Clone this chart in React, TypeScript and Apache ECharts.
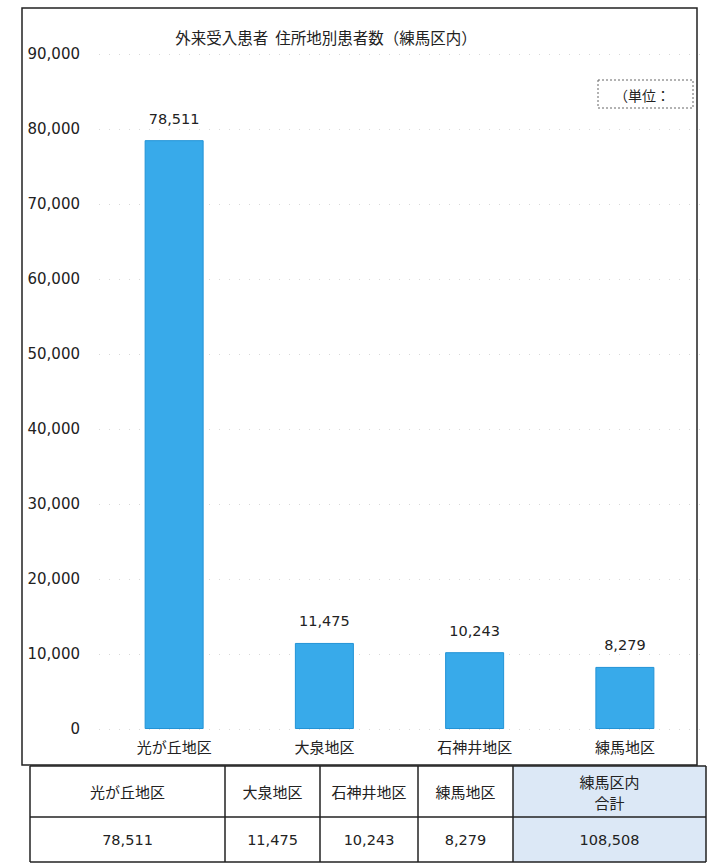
import React, { useEffect, useRef } from "react";
import * as echarts from "echarts";

const title = "外来受入患者  住所地別患者数（練馬区内）";
const categories = ["光が丘地区", "大泉地区", "石神井地区", "練馬地区"];
const values = [78511, 11475, 10243, 8279];
const tableHeaders = ["光が丘地区", "大泉地区", "石神井地区", "練馬地区", "練馬区内\n合計"];
const tableValues = ["78,511", "11,475", "10,243", "8,279", "108,508"];
const unitLabel = "（単位：";

const fmt = (v: number) => v.toLocaleString("en-US");

export default function App() {
  const ref = useRef<HTMLDivElement>(null);
  useEffect(() => {
    if (!ref.current) return;
    const chart = echarts.init(ref.current, undefined, { renderer: "svg" });

    const colX = [30, 225, 320, 418, 513, 706];
    const rowY = [766, 817, 862];
    const cjk = "'Noto Sans CJK JP', sans-serif";
    const num = "'DejaVu Sans', sans-serif";
    const tableEls: any[] = [];
    tableEls.push({
      type: "rect",
      shape: { x: colX[4], y: rowY[0], width: colX[5] - colX[4], height: rowY[2] - rowY[0] },
      style: { fill: "#dce8f6" },
    });
    for (let i = 0; i < tableHeaders.length; i++) {
      const cx = (colX[i] + colX[i + 1]) / 2;
      tableEls.push({
        type: "text",
        x: cx,
        y: (rowY[0] + rowY[1]) / 2,
        style: {
          text: tableHeaders[i],
          fontFamily: cjk,
          fontSize: 15,
          fill: "#222",
          align: "center",
          verticalAlign: "middle",
          lineHeight: 21,
        },
      });
      tableEls.push({
        type: "text",
        x: cx,
        y: (rowY[1] + rowY[2]) / 2,
        style: {
          text: tableValues[i],
          fontFamily: num,
          fontSize: 14.5,
          fill: "#222",
          align: "center",
          verticalAlign: "middle",
        },
      });
    }
    rowY.forEach((y) =>
      tableEls.push({
        type: "line",
        shape: { x1: colX[0], y1: y, x2: colX[5], y2: y },
        style: { stroke: "#222", lineWidth: 1.5 },
      })
    );
    colX.forEach((x) =>
      tableEls.push({
        type: "line",
        shape: { x1: x, y1: rowY[0], x2: x, y2: rowY[2] },
        style: { stroke: "#222", lineWidth: 1.5 },
      })
    );

    chart.setOption({
      animation: false,
      backgroundColor: "#ffffff",
      title: {
        text: title,
        left: 321,
        textAlign: "center",
        top: 24,
        textStyle: { fontFamily: cjk, fontSize: 15.5, fontWeight: "normal", color: "#222" },
      },
      grid: { left: 99, right: 8, top: 54, bottom: 137 },
      xAxis: {
        type: "category",
        data: categories,
        axisLine: { show: false },
        axisTick: { show: false },
        axisLabel: { fontFamily: cjk, fontSize: 15, color: "#222", margin: 10 },
      },
      yAxis: {
        type: "value",
        min: 0,
        max: 90000,
        interval: 10000,
        axisLine: { show: false },
        axisTick: { show: false },
        axisLabel: {
          fontFamily: num,
          fontSize: 15,
          color: "#222",
          margin: 19,
          formatter: (v: number) => fmt(v),
        },
        splitLine: { lineStyle: { color: "#d8d8d8", type: [1, 9], width: 1 } },
      },
      series: [
        {
          type: "bar",
          data: values,
          barWidth: 59,
          itemStyle: { color: "#38aaea", borderColor: "#2293d6", borderWidth: 1 },
          label: {
            show: true,
            position: "top",
            distance: 14,
            fontFamily: num,
            fontSize: 14.5,
            color: "#222",
            formatter: (p: any) => fmt(p.value),
          },
        },
      ],
      graphic: [
        {
          type: "rect",
          shape: { x: 22, y: 8, width: 675, height: 757 },
          style: { fill: "none", stroke: "#222", lineWidth: 1.5 },
          silent: true,
        },
        {
          type: "rect",
          shape: { x: 598, y: 80, width: 95, height: 28 },
          style: { fill: "none", stroke: "#666", lineWidth: 1, lineDash: [2, 2] },
        },
        {
          type: "text",
          x: 614,
          y: 95,
          style: {
            text: unitLabel,
            fontFamily: cjk,
            fontSize: 14,
            fill: "#222",
            verticalAlign: "middle",
          },
        },
        ...tableEls,
      ],
    });
    return () => chart.dispose();
  }, []);
  return (
    <div
      ref={ref}
      style={{ position: "fixed", left: 0, top: 0, width: 708, height: 866 }}
    />
  );
}
